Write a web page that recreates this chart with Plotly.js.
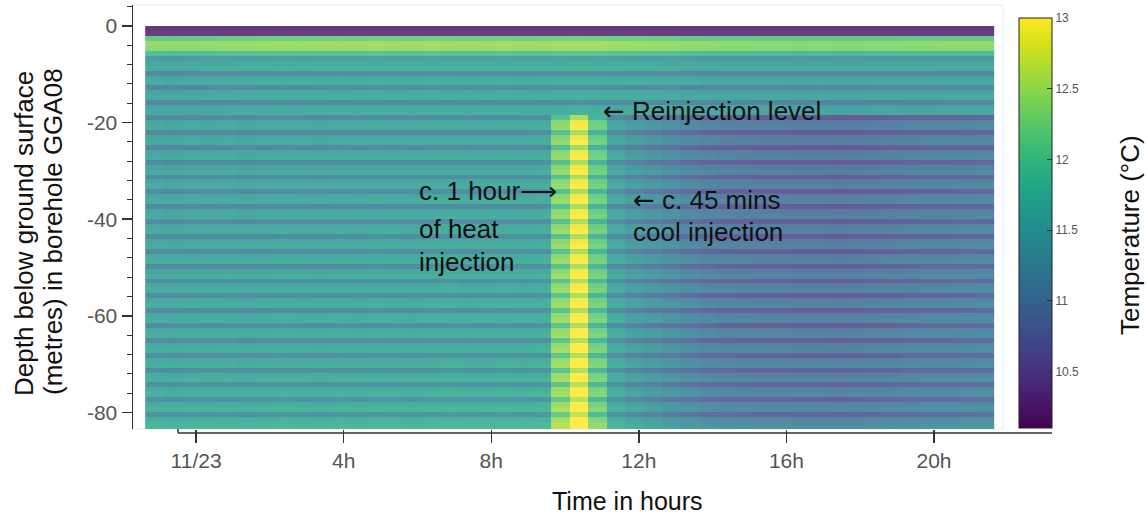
<!DOCTYPE html>
<html>
<head>
<meta charset="utf-8">
<script src="https://cdn.plot.ly/plotly-3.0.1.min.js"></script>
<style>
  html, body { margin: 0; padding: 0; background: #ffffff; }
  #chart { width: 1148px; height: 519px; }
</style>
</head>
<body>
<div id="chart"></div>
<script>
// ---------------- DATA ----------------
// Time axis: half-hour samples (hours relative to 11/23 00:00)
const timeStart = -1.13;       // centre of first sample, hours
const timeStep = 0.5;          // hours
// Depth axis: ~1 m samples (metres below ground, plotted as negative)
const depthStart = -0.513;     // centre of first sample
const depthStep = -1.026;

// Pre-injection temperature profile per depth sample (°C), top to bottom
const depthProfile = [
  10.20, 10.25, 12.15, 12.45, 12.40, 11.95, 11.45, 11.62, 11.70,
  11.18, 11.58, 11.66, 11.18, 11.57, 11.64, 11.16, 11.57, 11.64,
  11.18, 11.58, 11.65, 11.18, 11.57, 11.64, 11.16, 11.58, 11.65,
  11.19, 11.58, 11.65, 11.18, 11.58, 11.66, 11.19, 11.59, 11.67,
  11.18, 11.58, 11.66, 11.20, 11.59, 11.68, 11.20, 11.59, 11.67,
  11.20, 11.60, 11.68, 11.21, 11.61, 11.69, 11.21, 11.61, 11.69,
  11.22, 11.62, 11.70, 11.22, 11.63, 11.71, 11.23, 11.63, 11.71,
  11.24, 11.64, 11.72, 11.25, 11.65, 11.73, 11.25, 11.66, 11.74,
  11.27, 11.67, 11.75, 11.29, 11.69, 11.77, 11.32, 11.72, 11.82,
  11.86
];

// Temperature change per time sample below the reinjection level (~18 m)
const deepChange = [
  0.00, -0.02, 0.01, 0.00, 0.02, -0.01, 0.01, 0.03, 0.02, 0.00, 0.03,
  0.02, 0.04, 0.03, 0.02, 0.04, 0.05, 0.03, 0.04, 0.05, 0.04, 0.06,
  0.80, 1.35, 0.60, 0.00, -0.15, -0.25, -0.33, -0.42, -0.50, -0.54,
  -0.56, -0.58, -0.58, -0.60, -0.60, -0.62, -0.60, -0.58, -0.56, -0.52,
  -0.50, -0.50, -0.48, -0.46
];

// Temperature change per time sample between ~2 m and the reinjection level
const shallowChange = [
  0.00, -0.02, 0.00, 0.01, 0.02, 0.03, 0.05, 0.06, 0.05, 0.06, 0.07,
  0.06, 0.08, 0.07, 0.06, 0.08, 0.07, 0.06, 0.07, 0.08, 0.06, 0.07,
  0.08, 0.10, 0.08, 0.06, 0.05, 0.03, 0.02, 0.00, -0.02, -0.03,
  -0.03, -0.04, -0.04, -0.05, -0.04, -0.05, -0.05, -0.04, -0.04, -0.03,
  -0.03, -0.02, -0.02, -0.02
];

const surfaceRows = 2;        // rows of the purple surface band (unchanged)
const reinjectionRow = 18;    // first row below the reinjection level

const xTickVals = [0, 4, 8, 12, 16, 20];
const xTickText = ['11/23', '4h', '8h', '12h', '16h', '20h'];
const yTickVals = [0, -20, -40, -60, -80];
const yTickText = ['0', '-20', '-40', '-60', '-80'];
const cbTickVals = [10.5, 11, 11.5, 12, 12.5, 13];

// ---------------- BUILD ----------------
const z = depthProfile.map((base, i) =>
  deepChange.map((d, j) => {
    if (i < surfaceRows) return base;
    if (i < reinjectionRow) return base + shallowChange[j];
    return base + d;
  })
);

const FONT = 'Liberation Sans, Arial, Helvetica, sans-serif';
const ARROW = '<span style="font-family:DejaVu Sans">\u2190</span>';

// pixel -> paper helpers (plot area: x 133..1003, y 5..429)
const L = 133, R = 1003, T = 5, B = 429;
const px = X => (X - L) / (R - L);
const py = Y => (B - Y) / (B - T);

const trace = {
  type: 'heatmap',
  z: z,
  x0: timeStart, dx: timeStep,
  y0: depthStart, dy: depthStep,
  colorscale: 'Viridis',
  zmin: 10.1, zmax: 13,
  opacity: 0.82,
  hoverinfo: 'skip',
  colorbar: {
    xref: 'paper', yref: 'paper',
    x: px(1019), xanchor: 'left',
    y: py(428), yanchor: 'bottom',
    lenmode: 'pixels', len: 410,
    thickness: 33,
    xpad: 0, ypad: 0,
    outlinewidth: 1, outlinecolor: '#222',
    tickmode: 'array', tickvals: cbTickVals,
    ticks: 'inside', ticklen: 5, tickcolor: '#333',
    tickfont: { family: 'Liberation Sans Narrow, Liberation Sans, Arial, sans-serif', size: 12, color: '#555' },
    title: { text: '' }
  }
};

const annText = (text, X, Y, opts) => Object.assign({
  text: text, xref: 'paper', yref: 'paper', x: px(X), y: py(Y),
  xanchor: 'left', yanchor: 'middle', showarrow: false,
  font: { family: FONT, size: 26, color: '#111' }
}, opts || {});

const layout = {
  width: 1148, height: 519,
  margin: { l: L, r: 1148 - R, t: T, b: 519 - B, pad: 0 },
  paper_bgcolor: '#ffffff',
  plot_bgcolor: '#ffffff',
  showlegend: false,
  xaxis: {
    range: [-1.71, 21.87],
    showgrid: false, zeroline: false, showline: false,
    tickmode: 'array', tickvals: xTickVals, ticktext: xTickText,
    ticks: 'outside', ticklen: 13, tickwidth: 1.5, tickcolor: '#333',
    tickfont: { family: FONT, size: 21, color: '#555' }
  },
  yaxis: {
    range: [-83.45, 4.35],
    showgrid: false, zeroline: false,
    showline: true, linecolor: '#333', linewidth: 1.5,
    tickmode: 'array', tickvals: yTickVals, ticktext: yTickText,
    ticks: 'outside', ticklen: 10, tickwidth: 1.5, tickcolor: '#333',
    tickfont: { family: FONT, size: 21, color: '#555' },
    minor: { tickmode: 'linear', tick0: 0, dtick: 4, ticks: 'outside', ticklen: 5, tickwidth: 1, tickcolor: '#333', showgrid: false }
  },
  shapes: [
    { type: 'rect', xref: 'paper', yref: 'paper', x0: 0, x1: 1, y0: 0, y1: 1,
      line: { color: '#ececec', width: 1 }, layer: 'below' },
    { type: 'line', xref: 'paper', yref: 'paper', x0: px(178), x1: px(1052), y0: py(433), y1: py(433),
      line: { color: '#333', width: 1.5 } },
    { type: 'line', xref: 'paper', yref: 'paper', x0: px(178), x1: px(178), y0: py(429), y1: py(433),
      line: { color: '#333', width: 1.5 } }
  ],
  annotations: [
    annText('Depth below ground surface', 24, 234, { xanchor: 'center', textangle: -90 }),
    annText('(metres) in borehole GGA08', 53, 232, { xanchor: 'center', textangle: -90 }),
    annText('Time in hours', 627, 501, { xanchor: 'center', font: { family: FONT, size: 25, color: '#111' } }),
    annText('Temperature (°C)', 1130, 235, { xanchor: 'center', textangle: -90 }),
    annText(ARROW + ' Reinjection level', 601, 111),
    annText('c. 1 hour\u27F6', 417, 191),
    annText('of heat', 417, 229),
    annText('injection', 417, 262),
    annText(ARROW + ' c. 45 mins', 631, 200),
    annText('cool injection', 631, 232)
  ]
};

Plotly.newPlot('chart', [trace], layout, { displayModeBar: false, staticPlot: true });
</script>
</body>
</html>
